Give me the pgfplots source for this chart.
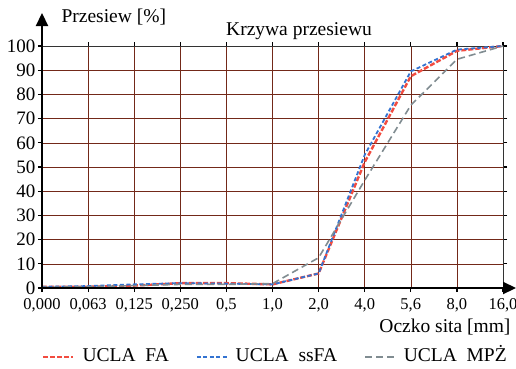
\documentclass[border=0pt]{standalone}
\usepackage{fontspec}
\setmainfont{Liberation Serif}
\usepackage{pgfplots}
\pgfplotsset{compat=1.18}
\usetikzlibrary{arrows.meta}
\definecolor{cfa}{rgb}{0.95,0.30,0.25}
\definecolor{cssfa}{rgb}{0.20,0.45,0.82}
\definecolor{cmpz}{rgb}{0.50,0.55,0.57}
\definecolor{cgrid}{rgb}{0.45,0.16,0.10}
\begin{document}
\begin{tikzpicture}[x=1pt,y=1pt]
\useasboundingbox (0,0) rectangle (516,368);
\begin{axis}[
  at={(42pt,80pt)}, anchor=south west,
  scale only axis, width=461pt, height=242pt,
  xmin=0, xmax=10, ymin=0, ymax=100,
  xtick={0,...,10},
  xticklabels={{0,000},{0,063},{0,125},{0,250},{0,5},{1,0},{2,0},{4,0},{5,6},{8,0},{16,0}},
  ytick={0,10,...,100},
  /pgf/number format/assume math mode=true,
  xticklabel style={font=\fontsize{16.5}{18}\selectfont, yshift=-3pt},
  yticklabel style={font=\fontsize{19}{20}\selectfont, xshift=1pt},
  grid=major,
  major grid style={cgrid, line width=0.6pt},
  axis line style={black!80, line width=0.7pt},
  tick style={black, line width=1.2pt},
  tick align=outside, major tick length=4pt,
  clip=false,
  legend columns=3,
  legend style={at={(0,-0.285)}, anchor=west, draw=none, fill=none, inner sep=0pt,
    font=\fontsize{19.5}{21}\selectfont,
    nodes={inner sep=0pt, text height=14pt, text depth=4pt},
    /tikz/every odd column/.append style={column sep=8pt},
    /tikz/every even column/.append style={column sep=27pt}},
  legend cell align=left,
  legend image code/.code={\draw[#1] (0pt,0pt) -- (30pt,0pt);},
]
\addplot[cfa, line width=2.4pt, dash pattern=on 5pt off 2pt] coordinates {
(0,0.5)(1,0.5)(2,1)(3,2)(4,2)(5,1.5)(6,6)(7,52)(8,87.5)(9,98)(10,100)};
\addlegendentry{UCLA\ \ FA}
\addplot[cssfa, line width=1.8pt, dash pattern=on 4pt off 2.5pt] coordinates {
(0,0.5)(1,0.8)(2,1.5)(3,2)(4,1.8)(5,1.5)(6,6)(7,55)(8,89.5)(9,98.5)(10,100)};
\addlegendentry{UCLA\ \ ssFA}
\addplot[cmpz, line width=1.6pt, dash pattern=on 7pt off 4pt] coordinates {
(0,0.3)(1,0.5)(2,1)(3,1.5)(4,1.5)(5,1.8)(6,12.5)(7,44.5)(8,75.5)(9,94.5)(10,100)};
\addlegendentry{UCLA\ \ MPŻ}
\end{axis}
\draw[line width=2.2pt, -{Triangle[length=13pt, width=12pt]}] (42,80) -- (42,355);
\draw[line width=2.2pt, -{Triangle[length=13pt, width=12pt]}] (42,80) -- (516,80);
\node[anchor=west, font=\fontsize{19.5}{21}\selectfont] at (58,351) {Przesiew [\%]};
\node[font=\fontsize{19.5}{21}\selectfont] at (299,337) {Krzywa przesiewu};
\node[anchor=east, font=\fontsize{19.5}{21}\selectfont] at (514,41) {Oczko sita [mm]};
\end{tikzpicture}
\end{document}
